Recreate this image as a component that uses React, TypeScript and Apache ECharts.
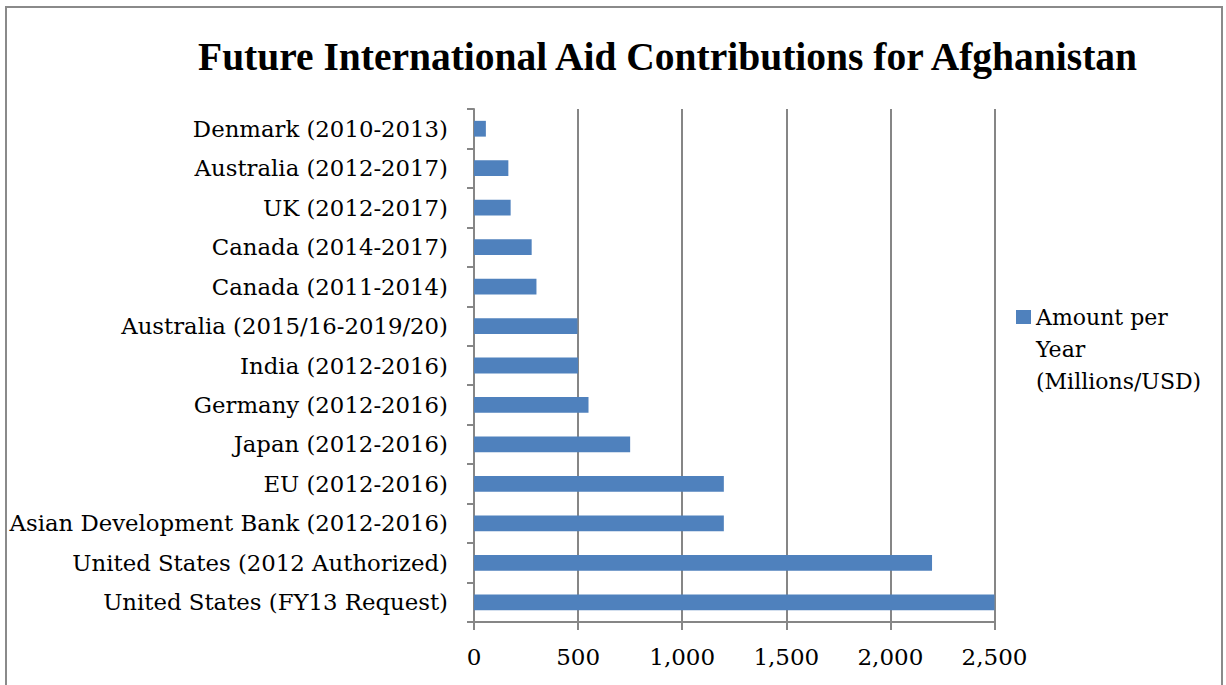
import React, { useEffect, useRef } from "react";
import * as echarts from "echarts";

const categories = [
  "Denmark (2010-2013)",
  "Australia (2012-2017)",
  "UK (2012-2017)",
  "Canada (2014-2017)",
  "Canada (2011-2014)",
  "Australia (2015/16-2019/20)",
  "India (2012-2016)",
  "Germany (2012-2016)",
  "Japan (2012-2016)",
  "EU (2012-2016)",
  "Asian Development Bank (2012-2016)",
  "United States (2012 Authorized)",
  "United States (FY13 Request)",
];
const amountPerYear = [57, 165, 176, 277, 300, 497, 500, 550, 750, 1200, 1200, 2200, 2500];
const seriesName = "Amount per Year (Millions/USD)";
const legendLines = ["", "", "Amount per", "Year", "(Millions/USD)"];
const xTicks = [0, 500, 1000, 1500, 2000, 2500];

const LABEL_FONT = "'DejaVu Serif', serif";
const TITLE_FONT = "'Liberation Serif', serif";
const GRID_COLOR = "#868686";

export default function App() {
  const ref = useRef<HTMLDivElement>(null);
  useEffect(() => {
    if (!ref.current) return;
    const chart = echarts.init(ref.current, undefined, { renderer: "svg" });
    chart.setOption({
      animation: false,
      backgroundColor: "#ffffff",
      title: {
        text: "Future International Aid Contributions for Afghanistan",
        left: 193,
        top: 32,
        textStyle: {
          fontFamily: TITLE_FONT,
          fontWeight: "bold",
          fontSize: 39.5,
          color: "#000000",
        },
      },
      graphic: [
        {
          type: "rect",
          shape: { x: 6, y: 7, width: 1216, height: 700 },
          style: { fill: "none", stroke: "#8a8a8a", lineWidth: 2 },
          silent: true,
        },
      ],
      legend: {
        left: 1016,
        top: 237,
        padding: 0,
        orient: "vertical",
        itemWidth: 15,
        itemHeight: 14,
        icon: "rect",
        data: [seriesName],
        formatter: () => legendLines.join("\n"),
        textStyle: {
          fontFamily: LABEL_FONT,
          fontSize: 22,
          lineHeight: 32,
          color: "#000000",
        },
      },
      grid: {
        left: 474,
        right: 231.5,
        top: 109,
        bottom: 63,
        containLabel: false,
      },
      xAxis: {
        type: "value",
        min: 0,
        max: 2500,
        interval: 500,
        axisLine: { show: true, lineStyle: { color: GRID_COLOR, width: 2 } },
        axisTick: { show: true, length: 8, lineStyle: { color: GRID_COLOR, width: 2 } },
        splitLine: { show: true, lineStyle: { color: GRID_COLOR, width: 2 } },
        axisLabel: {
          margin: 23,
          fontFamily: LABEL_FONT,
          fontSize: 23,
          color: "#000000",
          customValues: xTicks,
          formatter: (v: number) => v.toLocaleString("en-US"),
        },
      },
      yAxis: {
        type: "category",
        data: categories,
        inverse: true,
        axisLine: { show: true, lineStyle: { color: GRID_COLOR, width: 2 } },
        axisTick: { show: true, length: 7, lineStyle: { color: GRID_COLOR, width: 2 } },
        splitLine: { show: false },
        axisLabel: {
          margin: 26,
          fontFamily: LABEL_FONT,
          fontSize: 22.8,
          color: "#000000",
          interval: 0,
        },
      },
      series: [
        {
          name: seriesName,
          type: "bar",
          data: amountPerYear,
          barCategoryGap: "60%",
          itemStyle: { color: "#4F81BD" },
        },
      ],
    });
    return () => chart.dispose();
  }, []);
  return (
    <div
      ref={ref}
      style={{ position: "fixed", left: 0, top: 0, width: 1226, height: 685 }}
    />
  );
}
